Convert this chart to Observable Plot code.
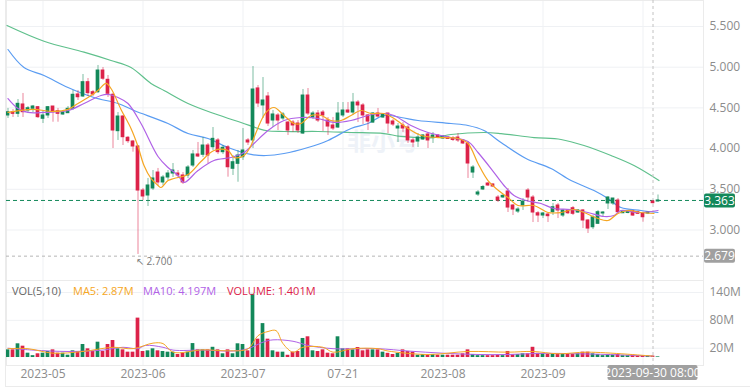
<!DOCTYPE html>
<html><head><meta charset="utf-8">
<script src="https://cdn.jsdelivr.net/npm/d3@7"></script>
<script src="https://cdn.jsdelivr.net/npm/@observablehq/plot@0.6"></script>
<style>
body{margin:0;background:#fff;font-family:"Open Sans",sans-serif;}
#wrap{position:relative;width:750px;height:387px;overflow:hidden;background:#fff}
#wrap svg{display:block}
#border{position:absolute;left:5px;top:0;width:745px;height:386px;border-left:1px solid #ebebeb;border-bottom:1px solid #ebebeb;pointer-events:none}
#voltitle{position:absolute;top:283px;left:0;font-size:11px;white-space:nowrap}
#voltitle span{position:absolute;top:0}
</style></head><body><div id="wrap"><div id="border"></div></div>
<script>
// ---- data (daily candles, index 0..130) ----
const open  = [4.407,4.447,4.427,4.542,4.468,4.489,4.509,4.366,4.407,4.517,4.459,4.419,4.435,4.489,4.665,4.640,4.816,4.693,4.693,4.959,4.845,4.661,4.214,4.394,4.133,4.087,4.026,3.485,3.424,3.510,3.706,3.584,3.645,3.694,3.694,3.670,3.670,3.792,3.928,3.924,4.038,4.017,4.100,3.956,4.017,3.752,3.813,3.894,4.100,4.100,4.739,4.530,4.640,4.345,4.407,4.370,4.320,4.320,4.308,4.185,4.652,4.382,4.431,4.443,4.345,4.284,4.259,4.407,4.468,4.443,4.566,4.530,4.407,4.320,4.431,4.382,4.431,4.333,4.247,4.284,4.259,4.100,4.087,4.112,4.173,4.136,4.161,4.124,4.136,4.130,4.136,4.100,4.063,3.706,3.436,3.498,3.571,3.559,3.399,3.400,3.473,3.301,3.227,3.301,3.485,3.399,3.206,3.178,3.190,3.219,3.301,3.178,3.240,3.268,3.215,3.240,3.117,3.034,3.076,3.203,3.326,3.326,3.362,3.206,3.209,3.231,3.219,3.206,3.203,3.350,3.350];
const high  = [4.493,4.480,4.603,4.677,4.517,4.530,4.517,4.468,4.517,4.517,4.493,4.468,4.517,4.714,4.714,4.910,4.861,4.714,5.021,4.996,4.898,4.677,4.443,4.407,4.149,4.100,4.038,3.510,3.633,3.731,3.756,3.670,3.731,3.817,3.731,3.706,3.792,3.977,4.075,4.136,4.063,4.259,4.124,4.038,4.038,3.915,3.977,4.247,4.124,5.008,4.775,4.873,4.689,4.468,4.431,4.443,4.332,4.345,4.345,4.726,4.738,4.456,4.468,4.468,4.382,4.382,4.566,4.566,4.566,4.677,4.591,4.554,4.419,4.443,4.493,4.431,4.431,4.357,4.308,4.320,4.284,4.124,4.185,4.173,4.198,4.198,4.173,4.161,4.149,4.149,4.185,4.112,4.087,3.792,3.485,3.547,3.584,3.571,3.424,3.436,3.510,3.313,3.276,3.387,3.510,3.424,3.227,3.215,3.203,3.326,3.326,3.252,3.252,3.289,3.252,3.252,3.129,3.178,3.240,3.227,3.412,3.387,3.387,3.240,3.240,3.240,3.227,3.219,3.227,3.362,3.430];
const low   = [4.370,4.382,4.382,4.382,4.431,4.443,4.370,4.308,4.370,4.324,4.324,4.407,4.431,4.468,4.591,4.628,4.640,4.640,4.677,4.837,4.628,4.001,4.100,4.038,4.063,3.956,2.700,3.362,3.289,3.485,3.547,3.547,3.608,3.645,3.633,3.559,3.633,3.768,3.890,3.890,3.817,3.977,3.927,3.927,3.649,3.670,3.587,3.854,4.038,4.001,4.505,4.370,4.271,4.259,4.222,4.345,4.161,4.198,4.186,4.173,4.407,4.357,4.320,4.210,4.161,4.222,4.247,4.382,4.431,4.407,4.320,4.296,4.222,4.308,4.382,4.370,4.185,4.271,4.075,4.198,4.063,4.014,4.014,4.100,4.001,4.063,4.124,4.112,4.112,4.087,4.075,4.050,3.633,3.633,3.412,3.485,3.534,3.522,3.338,3.387,3.215,3.178,3.203,3.240,3.338,3.092,3.092,3.141,3.092,3.178,3.141,3.154,3.190,3.178,3.203,3.018,2.957,3.006,3.068,3.154,3.252,3.301,3.203,3.203,3.199,3.166,3.190,3.096,3.190,3.320,3.345];
const close = [4.447,4.427,4.550,4.447,4.496,4.517,4.386,4.407,4.509,4.447,4.427,4.447,4.489,4.661,4.631,4.816,4.681,4.665,4.959,4.858,4.673,4.222,4.394,4.140,4.091,4.026,3.485,3.412,3.547,3.633,3.584,3.645,3.694,3.731,3.670,3.584,3.768,3.928,3.903,4.038,3.915,4.120,3.956,4.010,3.771,3.833,3.915,3.977,4.075,4.726,4.554,4.591,4.308,4.419,4.345,4.419,4.222,4.284,4.222,4.652,4.431,4.431,4.345,4.407,4.271,4.247,4.431,4.468,4.443,4.566,4.530,4.407,4.332,4.431,4.394,4.419,4.308,4.296,4.271,4.247,4.100,4.075,4.136,4.161,4.100,4.161,4.136,4.149,4.118,4.106,4.100,4.063,3.817,3.768,3.461,3.528,3.547,3.534,3.362,3.420,3.276,3.252,3.252,3.350,3.399,3.215,3.178,3.203,3.170,3.280,3.240,3.240,3.206,3.199,3.240,3.117,3.018,3.157,3.219,3.215,3.399,3.387,3.219,3.231,3.227,3.178,3.199,3.157,3.215,3.330,3.363];
const volume = [16.5,16.5,29.5,24.4,9.3,4,8,9.3,12.9,16.5,9.3,9.3,5,14.4,12.9,28,18.7,12.9,33,12.9,28,36.6,18.7,16.5,11.5,11.5,84.8,12.9,14.4,18.7,14.4,12.9,11.5,11.5,6.5,9.3,11.5,30,16.5,16.5,16.5,22,16.5,8,16.5,8,29.5,28,14.4,136,39.5,73,39.5,14.4,11.5,11.5,4.8,11.5,12.9,41,44.6,14.4,12.9,16.5,9.3,8,44.6,18.7,18.7,16.5,21.5,14.4,16.5,16.5,16.5,11.5,9,6.5,9,16.5,13,11.5,5,6.5,5,6.5,5,5,5,5,5,8,16.5,6.5,4,4,4,4,5,4,13,6,6.5,8,8,22,9,8,6.5,8,8,6.5,8,6.5,8,11.5,11.5,8,6.5,4,6.5,5,6.5,4,4,5,4,4,3,3,1.4];
// moving-average lines: [day index, value]
const ma5  = [[0,4.444],[5,4.481],[9,4.456],[12,4.481],[14,4.554],[16,4.628],[18,4.714],[19.6,4.800],[20.6,4.738],[22.6,4.481],[24.6,4.247],[26,4.026],[27.2,3.792],[28.6,3.633],[30,3.547],[30.6,3.522],[32,3.608],[33.2,3.633],[36,3.682],[38.6,3.841],[41.2,3.977],[44,3.977],[45.2,3.891],[47.2,3.915],[48.6,4.038],[49.2,4.136],[51.6,4.444],[53.2,4.505],[55.2,4.407],[57.2,4.308],[58.6,4.308],[60.6,4.407],[62.6,4.407],[64.6,4.345],[66.6,4.345],[68.6,4.407],[70.6,4.468],[72.6,4.431],[75.2,4.431],[77.2,4.370],[80,4.247],[82.6,4.161],[86,4.136],[90,4.124],[92,4.063],[94,3.817],[96,3.608],[98.6,3.461],[100,3.399],[102,3.301],[105.2,3.301],[108,3.215],[110.6,3.215],[113.2,3.252],[115.2,3.215],[118,3.141],[120,3.117],[122,3.203],[124,3.240],[126.6,3.215],[129.2,3.203]];
const ma10 = [[0,4.615],[2,4.493],[4,4.444],[7.2,4.444],[12,4.468],[15.2,4.554],[18.6,4.652],[20,4.665],[22,4.628],[24,4.554],[26.6,4.308],[30,3.903],[32,3.768],[34,3.670],[35.2,3.584],[38,3.731],[41.2,3.854],[44.6,3.891],[47.2,3.952],[49.2,4.063],[52,4.222],[55.2,4.345],[58.6,4.382],[62,4.370],[65.2,4.321],[68.6,4.345],[72,4.407],[75.2,4.431],[77.2,4.407],[80.6,4.284],[84,4.198],[88.6,4.136],[92,4.087],[94,3.952],[96.6,3.755],[99.2,3.547],[101.2,3.424],[103.6,3.362],[106.6,3.326],[109.2,3.264],[112.6,3.252],[116,3.215],[119.2,3.166],[121.2,3.178],[122.6,3.240],[126,3.215],[130,3.240]];
const ma30 = [[0,5.217],[3.2,4.996],[7.2,4.898],[12,4.751],[17.2,4.628],[22,4.554],[25.2,4.468],[32,4.308],[36,4.185],[40,4.124],[44,4.014],[48.6,3.928],[51.6,3.915],[55.2,3.940],[60,4.014],[64,4.100],[68.6,4.247],[72,4.308],[75.2,4.407],[78.6,4.382],[82,4.345],[88.6,4.308],[92,4.284],[95.2,4.222],[98.6,4.075],[103.6,3.878],[108.6,3.756],[112.6,3.608],[117.2,3.485],[120,3.387],[122.6,3.276],[126.6,3.240],[130,3.215]];
const ma60 = [[-0.2,5.512],[7.2,5.319],[15.2,5.184],[20.6,5.082],[24.6,4.996],[28.6,4.800],[31.2,4.714],[36,4.554],[41.2,4.431],[46.6,4.321],[51.6,4.222],[55.2,4.210],[62,4.210],[68.6,4.198],[75.2,4.185],[78.6,4.149],[85.2,4.136],[88.6,4.173],[95.2,4.198],[98.6,4.185],[105.2,4.136],[110.6,4.112],[115.2,4.038],[120.6,3.915],[125.2,3.792],[130.2,3.608]];
const volMa5  = [[0,19],[4,19],[9,9.3],[15,13],[21,22],[25,19],[29,31],[31,30],[33,11.5],[39,16.5],[44,14.4],[48,18.7],[50,47],[52,56],[53.6,58],[55,30],[57,11.5],[59,22],[63,22],[65,11.5],[69,19],[74,19],[76,14],[84,6.5],[92,13],[100,11.5],[105,13],[110,8],[116,11.5],[129,3]];
const volMa10 = [[0,20],[5,16],[12,13],[19,16],[23,22],[26,19],[27.5,26],[31,22],[33,16],[39,16],[45,14],[48,19],[51,33],[53,38],[57,35],[60,26],[65,19],[74,19],[80,14],[87,9.3],[94,6.5],[100,6.5],[107,9],[114,8],[120,6.5],[129,3]];
const priceTicks = [3.0,3.5,4.0,4.5,5.0,5.5];
const volTicks = [20,80,140];
const gridIdx = [7,27,47,67,87,107,127];
const tickIdx = [7,27,47,67,87,107];
const tickLabels = ["2023-05","2023-06","2023-07","07-21","2023-08","2023-09"];
const lastPrice = 3.363, crossPrice = 2.679, crossIdx = 129, crossLabel = "2023-09-30 08:00";
const lowIdx = 26, lowPrice = 2.700;

// ---- styles ----
const UP = "#13885a", DN = "#dc2249";
const C_MA5 = "#f5a623", C_MA10 = "#b062e6", C_MA30 = "#5a9cf2", C_MA60 = "#5fc08c";
const GRID = "#eff1f4", TXT = "#8c8c8c";
const font = "'Open Sans', sans-serif";
const xDomain = [-0.3, 139.1];

const candles = d3.range(close.length).map(i => ({i, o: open[i], h: high[i], l: low[i], c: close[i], v: volume[i], col: close[i] >= open[i] ? UP : DN}));
const labelMap = new Map(tickIdx.map((d, i) => [d, tickLabels[i]]));
const half = 0.37;

const price = Plot.plot({
  width: 750, height: 280, marginLeft: 6, marginRight: 47, marginTop: 0, marginBottom: 0,
  x: {domain: xDomain, axis: null},
  y: {domain: [2.380, 5.819], axis: null},
  color: {type: "identity"},
  style: {fontFamily: font, fontSize: "12px", background: "transparent", overflow: "visible"},
  marks: [
    Plot.gridX(gridIdx, {stroke: GRID, strokeOpacity: 1}),
    Plot.gridY(priceTicks, {stroke: GRID, strokeOpacity: 1}),
    Plot.frame({stroke: "#ebebeb"}),
    Plot.axisY(priceTicks, {anchor: "right", label: null, tickSize: 0, tickPadding: 6, tickFormat: d3.format(".3f"), fill: TXT, fontSize: 12}),
    Plot.text(["非小号"], {frameAnchor: "middle", dx: 28, dy: 2, fill: "#eef2f8", fontSize: 24, fontWeight: "bold", fontFamily: "'Noto Sans CJK SC', sans-serif"}),
    Plot.line(ma60, {x: d => d[0], y: d => d[1], stroke: C_MA60, strokeWidth: 1.2, curve: "catmull-rom"}),
    Plot.line(ma30, {x: d => d[0], y: d => d[1], stroke: C_MA30, strokeWidth: 1.2, curve: "catmull-rom"}),
    Plot.ruleY([lastPrice], {stroke: UP, strokeDasharray: "4,3", strokeWidth: 1}),
    Plot.ruleY([crossPrice], {stroke: "#b5b5b5", strokeDasharray: "3,3", strokeWidth: 1}),
    Plot.ruleX([crossIdx], {stroke: "#c2c2c2", strokeDasharray: "3,3", strokeWidth: 1}),
    Plot.ruleX(candles, {x: "i", y1: "l", y2: "h", stroke: "col", strokeOpacity: 0.55, strokeWidth: 1}),
    Plot.rect(candles, {x1: d => d.i - half, x2: d => d.i + half, y1: "o", y2: "c", fill: "col", insetTop: -0.5, insetBottom: -0.5}),
    Plot.line(ma10, {x: d => d[0], y: d => d[1], stroke: C_MA10, strokeWidth: 1.2, curve: "catmull-rom"}),
    Plot.line(ma5, {x: d => d[0], y: d => d[1], stroke: C_MA5, strokeWidth: 1.2, curve: "catmull-rom"}),
    Plot.text([{i: lowIdx, p: lowPrice}], {x: "i", y: "p", text: d => "↖ " + d3.format(".3f")(d.p), textAnchor: "start", dx: -2, dy: 7, fill: "#777", fontSize: 10})
  ]
});

const vol = Plot.plot({
  width: 750, height: 106, marginLeft: 6, marginRight: 47, marginTop: 0, marginBottom: 21,
  x: {domain: xDomain, axis: null},
  y: {domain: [-17.2, 165.8], axis: null},
  color: {type: "identity"},
  style: {fontFamily: font, fontSize: "12px", background: "transparent", overflow: "visible"},
  marks: [
    Plot.gridX(gridIdx, {stroke: GRID, strokeOpacity: 1}),
    Plot.gridY(volTicks, {stroke: GRID, strokeOpacity: 1}),
    Plot.frame({stroke: "#ebebeb"}),
    Plot.axisY(volTicks, {anchor: "right", label: null, tickSize: 0, tickPadding: 6, tickFormat: d => d + "M", fill: TXT, fontSize: 12}),
    Plot.axisX(tickIdx, {anchor: "bottom", label: null, tickSize: 0, tickPadding: 4, tickFormat: d => labelMap.get(d), fill: TXT, fontSize: 12}),
    Plot.ruleX([crossIdx], {stroke: "#c2c2c2", strokeDasharray: "3,3", strokeWidth: 1}),
    Plot.rect(candles, {x1: d => d.i - half, x2: d => d.i + half, y1: d => 0, y2: "v", fill: "col"}),
    Plot.line(volMa10, {x: d => d[0], y: d => d[1], stroke: C_MA10, strokeWidth: 1, curve: "catmull-rom"}),
    Plot.line(volMa5, {x: d => d[0], y: d => d[1], stroke: C_MA5, strokeWidth: 1, curve: "catmull-rom"})
  ]
});

const wrap = document.getElementById("wrap");
wrap.insertBefore(vol, wrap.firstChild);
wrap.insertBefore(price, vol);

function tag(svg, x, yc, w, h, bg, text, anchor) {
  const g = d3.select(svg).append("g");
  const x0 = anchor === "middle" ? x - w / 2 : x;
  g.append("rect").attr("x", x0).attr("y", yc - h / 2).attr("width", w).attr("height", h).attr("rx", 2).attr("fill", bg);
  g.append("text").attr("x", x0 + w / 2).attr("y", yc).attr("dy", "0.36em").attr("text-anchor", "middle")
    .attr("fill", "#fff").attr("font-size", 12).attr("font-family", font).text(text);
}
const px = price.scale("x"), py = price.scale("y");
const right = px.range[1];
tag(price, right + 1, py.apply(lastPrice) + 0.5, 31, 14, UP, d3.format(".3f")(lastPrice));
tag(price, right + 1, py.apply(crossPrice), 31, 14, "#a0a0a0", d3.format(".3f")(crossPrice));
const vx = vol.scale("x"), vy = vol.scale("y");
tag(vol, vx.apply(crossIdx), vy.range[0] + 7.5, 90, 15, "#a0a0a0", crossLabel, "middle");

// volume legend
const t = document.createElement("div");
t.id = "voltitle";
t.innerHTML = '<span style="left:12px;color:#666">VOL(5,10)</span>' +
  '<span style="left:73px;color:' + C_MA5 + '">MA5: 2.87M</span>' +
  '<span style="left:143px;color:' + C_MA10 + '">MA10: 4.197M</span>' +
  '<span style="left:227px;color:' + DN + '">VOLUME: 1.401M</span>';
wrap.appendChild(t);
</script>
</body></html>
